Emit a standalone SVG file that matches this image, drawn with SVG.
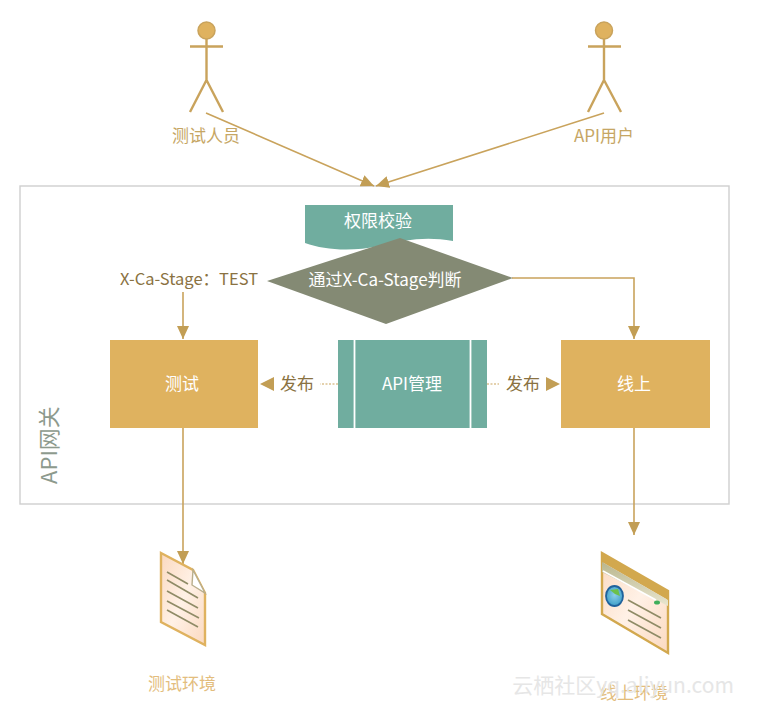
<svg xmlns="http://www.w3.org/2000/svg" width="758" height="709" viewBox="0 0 758 709">
  <style>
    text { font-family: "Noto Sans CJK SC", "Liberation Sans", sans-serif; text-anchor: middle; }
    .actor { fill: none; stroke: #c9a35c; stroke-width: 2.4; }
    .conn { fill: none; stroke: #c9a35c; stroke-width: 1.6; }
    .dash { fill: none; stroke: #c9a35c; stroke-width: 1.2; stroke-dasharray: 2 1.5; }
    .head { fill: #c29e55; }
    .gold { fill: #dfb25f; }
    .teal { fill: #70ad9f; }
    .white { fill: #ffffff; font-size: 17px; }
    .tan { fill: #c6a664; font-size: 17px; }
    .brown { fill: #8a7242; font-size: 17px; }
    .ink { stroke: #8f8b66; stroke-width: 1.6; fill: none; }
  </style>
  <defs>
    <linearGradient id="paper" x1="0" y1="0" x2="1" y2="1">
      <stop offset="0" stop-color="#fbd9c0"/>
      <stop offset="0.5" stop-color="#fff1e6"/>
      <stop offset="1" stop-color="#fbd9c0"/>
    </linearGradient>
    <linearGradient id="bar" x1="0" y1="0" x2="0" y2="1">
      <stop offset="0" stop-color="#b9b68e"/>
      <stop offset="1" stop-color="#e9e6cf"/>
    </linearGradient>
    <radialGradient id="globe" cx="0.5" cy="0.45" r="0.55">
      <stop offset="0" stop-color="#8fd0e8"/>
      <stop offset="1" stop-color="#3f9fc9"/>
    </radialGradient>
    <marker id="tip" markerWidth="14" markerHeight="12" refX="13" refY="6" orient="auto" markerUnits="userSpaceOnUse">
      <path class="head" d="M0 0L13 6L0 12Z"/>
    </marker>
  </defs>

  <g id="gateway">
    <rect x="20" y="186" width="709" height="318" fill="#ffffff" stroke="#cfcfcf" stroke-width="1.4"/>
    <text transform="translate(57 445) rotate(-90)" fill="#8d9a8d" font-size="22">API网关</text>
  </g>

  <g id="connectors">
    <path class="conn" d="M206 113L374 186" marker-end="url(#tip)"/>
    <path class="conn" d="M604 113L376 186" marker-end="url(#tip)"/>
    <path class="conn" d="M183 292V339" marker-end="url(#tip)"/>
    <path class="conn" d="M512 278H634V339" marker-end="url(#tip)"/>
    <path class="conn" d="M183 428V564" marker-end="url(#tip)"/>
    <path class="conn" d="M634 428V535" marker-end="url(#tip)"/>
    <path class="dash" d="M338 384H320"/>
    <path class="dash" d="M487 384H499"/>
    <path class="head" d="M260 384L274 377V391Z"/>
    <path class="head" d="M560 384L546 377V391Z"/>
  </g>

  <g id="tester">
    <circle cx="206.500" cy="30.500" r="8.500" fill="#dfb25f" stroke="#c9a35c" stroke-width="1.500"/>
    <path class="actor" d="M190 46.500H223M206.500 39V80M206.500 80L190 112M206.500 80L223 112"/>
    <text class="tan" x="206" y="142">测试人员</text>
  </g>
  <g id="api-user">
    <circle cx="604" cy="30.500" r="8.500" fill="#dfb25f" stroke="#c9a35c" stroke-width="1.500"/>
    <path class="actor" d="M588 46.500H621M604 39V80M604 80L588 112M604 80L621 112"/>
    <text class="tan" x="604" y="142">API用户</text>
  </g>

  <g id="auth-check">
    <path class="teal" d="M305 205H453V241C425 236 405 240 380 246C350 252 325 250 305 243Z"/>
    <text class="white" x="378" y="227">权限校验</text>
  </g>
  <g id="stage-decision">
    <path d="M267 281L400 238L513 278L386 324Z" fill="#848a74"/>
    <text class="white" x="385" y="286" font-size="17">通过X-Ca-Stage判断</text>
  </g>
  <text id="test-stage-label" x="189" y="285" fill="#8a7242" font-size="16.500">X-Ca-Stage：TEST</text>

  <g id="test-node">
    <rect class="gold" x="110" y="340" width="148" height="88"/>
    <text class="white" x="182" y="390">测试</text>
  </g>
  <g id="api-management">
    <rect class="teal" x="338" y="340" width="149" height="88"/>
    <path d="M354.500 340V428M470.500 340V428" stroke="#ffffff" stroke-width="1.800"/>
    <text class="white" x="412" y="390">API管理</text>
  </g>
  <g id="live-node">
    <rect class="gold" x="561" y="340" width="149" height="88"/>
    <text class="white" x="634" y="390">线上</text>
  </g>
  <text id="publish-left" class="brown" x="297" y="390">发布</text>
  <text id="publish-right" class="brown" x="523" y="390">发布</text>

  <g id="test-env">
    <path d="M161 553L193 570L205 593V645L161 622Z" fill="url(#paper)" stroke="#dfb25f" stroke-width="2.400"/>
    <path d="M193 570L192 585L205 593Z" fill="#ffffff" stroke="#b9ae8c" stroke-width="1.400"/>
    <path class="ink" d="M167 572L188 584M167 580L198 598M167 591L198 608M167 601L199 618M167 610L198 627"/>
    <text x="182" y="690" fill="#e3bd7d" font-size="17">测试环境</text>
  </g>
  <g id="live-env">
    <path d="M602 553L668 591V653L602 614Z" fill="url(#paper)" stroke="#d2a84e" stroke-width="2.400"/>
    <path d="M602 553L668 591V600L602 562Z" fill="#d2a84e"/>
    <path d="M602 562L668 600V606L602 572Z" fill="url(#bar)"/>
    <path d="M603 571L656 600" stroke="#ffffff" stroke-width="1.500"/>
    <ellipse cx="657" cy="602.500" rx="3" ry="2" fill="#3fae5a"/>
    <ellipse cx="614.500" cy="596" rx="8.500" ry="10" fill="url(#globe)" stroke="#20629c" stroke-width="1.800"/>
    <path d="M610 590L618 589L620 596L615 594Z" fill="#6cc04a"/>
    <path class="ink" d="M628 600L661 618M628 610L661 628M628 620L661 638"/>
    <text x="634" y="699" fill="#e3bd7d" font-size="17">线上环境</text>
  </g>

  <text id="site-mark" x="623" y="693" fill="#e6e6e6" font-size="21">云栖社区yq.aliyun.com</text>
</svg>
